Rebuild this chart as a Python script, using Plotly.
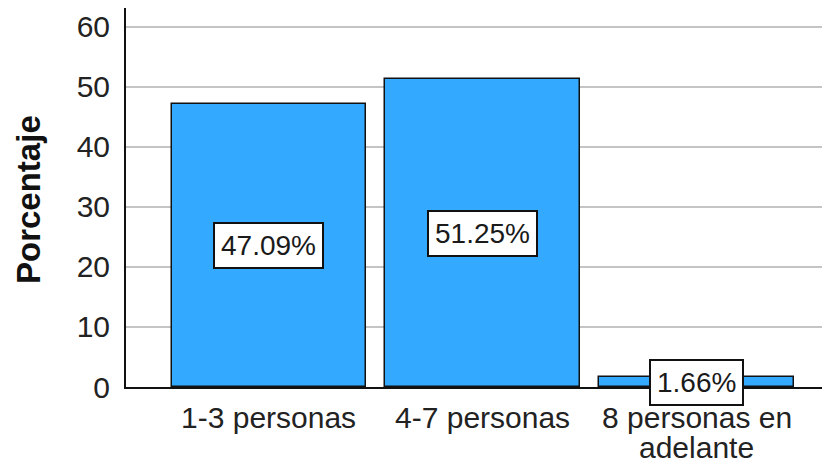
import plotly.graph_objects as go

categories = ["1-3 personas", "4-7 personas", "8 personas en<br>adelante"]
values = [47.09, 51.25, 1.66]
labels = ["47.09%", "51.25%", "1.66%"]
y_ticks = [0, 10, 20, 30, 40, 50, 60]
y_title = "Porcentaje"

FONT = "Liberation Sans, Arial, sans-serif"

fig = go.Figure()
fig.add_trace(go.Bar(
    x=list(range(len(categories))),
    y=values,
    width=0.91,
    marker=dict(color="#33aaff", line=dict(color="#111111", width=1.5)),
    hoverinfo="skip",
))

# value labels in boxes, centred in each bar
for i, (v, lab) in enumerate(zip(values, labels)):
    fig.add_annotation(
        x=i, y=v / 2, text=lab, showarrow=False,
        font=dict(family=FONT, size=28, color="#1a1a1a"),
        bgcolor="white", bordercolor="#111111", borderwidth=2, borderpad=6,
        xanchor="center", yanchor="middle",
    )

# category labels (tight line spacing like the reference)
for i, cat in enumerate(categories):
    for k, line in enumerate(cat.split("<br>")):
        fig.add_annotation(
            x=i, y=0, xref="x", yref="y", text=line, showarrow=False,
            font=dict(family=FONT, size=30, color="#222222"),
            borderpad=0,
            xanchor="center", yanchor="top", yshift=-13 - 30 * k,
        )

# y-axis title
fig.add_annotation(
    x=-0.1392, y=0.4934, xref="paper", yref="paper", text="<b>%s</b>" % y_title,
    showarrow=False, textangle=-90,
    font=dict(family=FONT, size=33, color="#111111"),
    xanchor="center", yanchor="middle",
)

fig.update_layout(
    width=822, height=450,
    margin=dict(l=118, r=0, t=0, b=71),
    paper_bgcolor="white", plot_bgcolor="white",
    showlegend=False,
    font=dict(family=FONT, size=30, color="#222222"),
    bargap=0,
)
fig.update_xaxes(
    range=[-0.668, 2.624],
    tickvals=list(range(len(categories))), showticklabels=False,
    showgrid=False, zeroline=False, automargin=False,
    showline=True, linecolor="#111111", linewidth=2,
)
fig.update_yaxes(
    range=[0, 63.1],
    tickvals=y_ticks, automargin=False,
    showgrid=True, gridcolor="#c4c4c4", gridwidth=2,
    zeroline=False,
    showline=True, linecolor="#111111", linewidth=2,
    ticks="outside", ticklen=8, tickcolor="rgba(0,0,0,0)",
    tickfont=dict(family=FONT, size=30, color="#222222"),
)

fig.write_html("out.html")
